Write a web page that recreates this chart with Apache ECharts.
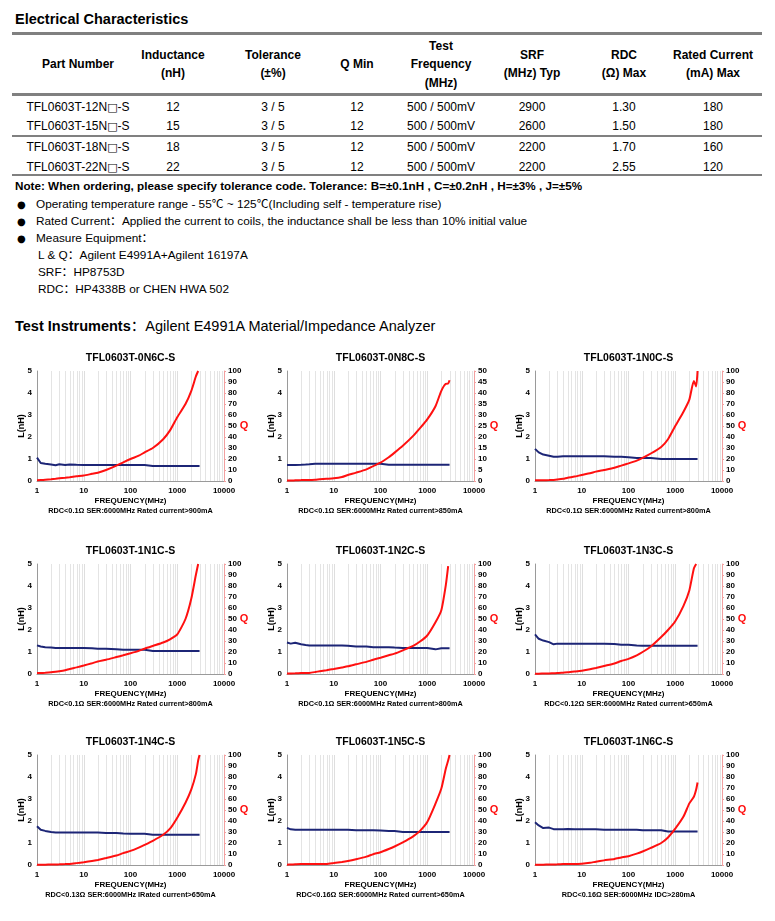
<!DOCTYPE html>
<html>
<head>
<meta charset="utf-8">
<script src="https://cdn.jsdelivr.net/npm/echarts@6/dist/echarts.min.js"></script>
<style>
  html,body{margin:0;padding:0;background:#fff;}
  body{width:775px;height:921px;position:relative;overflow:hidden;font-family:"Liberation Sans",Arial,"Noto Sans CJK SC",sans-serif;color:#000;}
  .t{position:absolute;white-space:nowrap;line-height:1;}
  .hl{position:absolute;left:12px;width:750px;background:#808080;}
  .ch{position:absolute;width:265px;height:195px;}
  .bx{font-family:"DejaVu Sans";font-size:11px;}
</style>
</head>
<body>
<div id="page"></div>
<script>
// ---------------- Table data ----------------
const tableHeaders = [["Part Number"],["Inductance","(nH)"],["Tolerance","(±%)"],["Q Min"],["Test","Frequency","(MHz)"],["SRF","(MHz) Typ"],["RDC","(Ω) Max"],["Rated Current","(mA) Max"]];
const partNumbers = ["TFL0603T-12N□-S","TFL0603T-15N□-S","TFL0603T-18N□-S","TFL0603T-22N□-S"];
const inductance = ["12","15","18","22"];
const tolerance = ["3 / 5","3 / 5","3 / 5","3 / 5"];
const qMin = ["12","12","12","12"];
const testFreq = ["500 / 500mV","500 / 500mV","500 / 500mV","500 / 500mV"];
const srf = ["2900","2600","2200","2200"];
const rdc = ["1.30","1.50","1.70","2.55"];
const ratedCurrent = ["180","180","160","120"];

// ---------------- Chart data ----------------
const CHART_TITLES = ["TFL0603T-0N6C-S","TFL0603T-0N8C-S","TFL0603T-1N0C-S","TFL0603T-1N1C-S","TFL0603T-1N2C-S","TFL0603T-1N3C-S","TFL0603T-1N4C-S","TFL0603T-1N5C-S","TFL0603T-1N6C-S"];
const CHART_NOTES = [
  "RDC<0.1Ω SER:6000MHz Rated current>900mA",
  "RDC<0.1Ω SER:6000MHz Rated current>850mA",
  "RDC<0.1Ω SER:6000MHz Rated current>800mA",
  "RDC<0.1Ω SER:6000MHz Rated current>800mA",
  "RDC<0.1Ω SER:6000MHz Rated current>800mA",
  "RDC<0.12Ω SER:6000MHz Rated current>650mA",
  "RDC<0.13Ω SER:6000MHz IRated current>650mA",
  "RDC<0.16Ω SER:6000MHz Rated current>650mA",
  "RDC<0.16Ω SER:6000MHz IDC>280mA"
];
const X_AXIS_NAME = "FREQUENCY(MHz)";
const L_AXIS_NAME = "L(nH)";
const Q_AXIS_NAME = "Q";
const Q_AXIS_MAX = [100,50,100,100,100,100,100,100,100];
const Q_AXIS_STEP = [10,5,10,10,10,10,10,10,10];
const L_AXIS_TICKS = [0,1,2,3,4,5];
const FREQ_TICKS = [1,10,100,1000,10000];
const MINOR_GRID = [2,3,4,5,6,7,8,9,20,30,40,50,60,70,80,90,200,300,400,500,600,700,800,900,2000,3000,4000,5000,6000,7000,8000,9000];

const FREQ = [1,1.2,1.5,2,2.5,3,4,5,7,10,15,20,30,50,70,100,150,200,300,500,700,1000,1500,2000,2500,2800,3000];

const L_0N6C = [1.06,0.82,0.78,0.75,0.72,0.76,0.73,0.75,0.74,0.73,0.73,0.73,0.73,0.73,0.73,0.73,0.73,0.73,0.68,0.68,0.68,0.68,0.68,0.68,0.68,0.68,0.68];
const Q_0N6C = [0.6,0.8,1.2,1.6,2,2.4,3,3.5,4.3,5,6.5,7.5,10,14,17,20,23,26,30,38,46,58,70,82,95,100,null];

const L_0N8C = [0.73,0.73,0.73,0.74,0.75,0.76,0.78,0.78,0.78,0.78,0.78,0.78,0.78,0.78,0.78,0.78,0.74,0.74,0.74,0.74,0.74,0.74,0.74,0.74,0.74,0.74,0.74];
const Q_0N8C = [0.2,0.2,0.3,0.4,0.5,0.5,0.6,0.8,1,1.2,1.8,2.7,3.8,5.3,6.8,8.3,10.8,12.9,16,20.5,24,28,34,41,44.2,44.3,45.8];

const L_1N0C = [1.46,1.3,1.2,1.15,1.1,1.1,1.12,1.13,1.12,1.12,1.12,1.12,1.12,1.1,1.1,1.08,1.05,1.05,1.05,1.0,1.0,1.0,1.0,1.0,1.0,1.0,1.0];
const Q_1N0C = [0.6,0.6,0.7,0.8,1,1.3,2,3,4,5.5,7,8.5,10,12,14,16,18.5,21,25,31,38,50,63,74,91,86,100];

const L_1N1C = [1.3,1.25,1.22,1.2,1.18,1.18,1.18,1.18,1.18,1.18,1.17,1.15,1.15,1.12,1.1,1.1,1.1,1.1,1.05,1.05,1.05,1.05,1.05,1.05,1.05,1.05,1.05];
const Q_1N1C = [0.8,0.9,1.1,1.5,2,2.5,3.5,4.6,6,7.7,9.8,11.4,13,15.4,17,18.8,21,23,25.5,28.6,31.5,36,50,68.6,90,100,null];

const L_1N2C = [1.43,1.38,1.42,1.35,1.32,1.3,1.3,1.3,1.3,1.3,1.3,1.28,1.25,1.25,1.22,1.22,1.22,1.2,1.18,1.18,1.18,1.18,1.12,1.17,1.17,1.17,1.17];
const Q_1N2C = [0.5,0.5,0.6,0.8,0.9,1,1.8,2.5,3.5,4.6,6,7,8.8,11,13,14.8,17,18.5,21.5,25.5,29.5,35,47,58,81,98,null];

const L_1N3C = [1.8,1.6,1.52,1.45,1.35,1.38,1.38,1.38,1.38,1.38,1.38,1.38,1.38,1.36,1.33,1.33,1.3,1.28,1.28,1.28,1.28,1.28,1.28,1.28,1.28,1.28,1.28];
const Q_1N3C = [0.3,0.3,0.4,0.5,0.7,0.8,1.2,1.5,2.2,3,4.3,5.5,7.3,9.5,11.8,13.8,17,20,25,33.6,40,48,62,76,96,100,null];

const L_1N4C = [1.76,1.6,1.55,1.5,1.48,1.48,1.48,1.48,1.48,1.48,1.48,1.48,1.46,1.45,1.43,1.42,1.42,1.42,1.38,1.38,1.38,1.38,1.38,1.38,1.38,1.38,1.38];
const Q_1N4C = [0.2,0.2,0.3,0.4,0.5,0.6,0.8,1,1.7,2.5,3.6,4.6,6.3,8.6,10.8,12.8,15.8,18.3,22,27.5,33,43,56.6,68.8,82.6,95,100];

const L_1N5C = [1.69,1.62,1.6,1.6,1.6,1.6,1.6,1.6,1.6,1.6,1.6,1.6,1.58,1.58,1.58,1.57,1.55,1.55,1.5,1.5,1.5,1.5,1.5,1.5,1.5,1.5,1.5];
const Q_1N5C = [0.3,0.4,0.6,0.8,0.8,0.8,0.9,1,1,1.8,2.8,3.7,5.3,7.6,9.8,11.6,14.5,16.8,20.5,26,31,39,55.8,69.5,87.8,95,100];

const L_1N6C = [1.94,1.8,1.68,1.7,1.63,1.62,1.62,1.64,1.62,1.62,1.62,1.62,1.6,1.6,1.6,1.6,1.6,1.58,1.58,1.58,1.52,1.52,1.52,1.52,1.52,1.52,1.52];
const Q_1N6C = [0.2,0.2,0.3,0.4,0.5,0.6,0.8,0.9,1,1.2,2,3,4.2,5.5,6.8,8,10.3,12.3,15.5,20,25,33,44,56,62,68.6,75];

const L_SERIES = [L_0N6C,L_0N8C,L_1N0C,L_1N1C,L_1N2C,L_1N3C,L_1N4C,L_1N5C,L_1N6C];
const Q_SERIES = [Q_0N6C,Q_0N8C,Q_1N0C,Q_1N1C,Q_1N2C,Q_1N3C,Q_1N4C,Q_1N5C,Q_1N6C];

// ---------------- Page text ----------------
const FONT = '"Liberation Sans", Arial, "Noto Sans CJK SC", sans-serif';
const page = document.getElementById('page');
function put(html, x, y, css, align){
  const d = document.createElement('div');
  d.className = 't';
  d.innerHTML = html;
  d.style.left = x + 'px';
  d.style.top = y + 'px';
  d.style.transform = align === 'c' ? 'translate(-50%,-50%)' : 'translate(0,-50%)';
  if (css) d.style.cssText += css;
  page.appendChild(d);
  return d;
}
function hline(y, h){
  const d = document.createElement('div');
  d.className = 'hl';
  d.style.top = y + 'px';
  d.style.height = h + 'px';
  page.appendChild(d);
}
function esc(s){ return s.replace(/&/g,'&amp;').replace(/</g,'&lt;').replace(/□/g,'<span class="bx">□</span>'); }

put('Electrical Characteristics', 15, 19, 'font-size:14.5px;font-weight:bold;');
hline(32, 3); hline(93, 3); hline(135, 2); hline(174, 2);

const colX = [78,173,273,357,441,532,624,713];
tableHeaders.forEach((lines, i) => {
  const n = lines.length;
  const lh = 18.5;
  const y0 = 64 - (n - 1) * lh / 2;
  lines.forEach((s, k) => put(esc(s), colX[i], y0 + k * lh, 'font-size:12px;font-weight:bold;', 'c'));
});
const rowY = [107,126,147,167];
const cols = [partNumbers, inductance, tolerance, qMin, testFreq, srf, rdc, ratedCurrent];
cols.forEach((arr, i) => arr.forEach((s, r) => put(esc(s), colX[i], rowY[r], 'font-size:12px;', 'c')));

put('Note: When ordering, please specify tolerance code. Tolerance: B=±0.1nH , C=±0.2nH , H=±3% , J=±5%', 15, 186, 'font-size:11.7px;font-weight:bold;');
const bullets = ['Operating temperature range - 55℃ ~ 125℃(Including self - temperature rise)',
  'Rated Current：Applied the current to coils, the inductance shall be less than 10% initial value',
  'Measure Equipment：'];
bullets.forEach((s, i) => {
  put('●', 17, 205 + i * 17, 'font-size:10px;font-family:"DejaVu Sans";');
  put(esc(s), 36, 205 + i * 17, 'font-size:11.8px;');
});
['L & Q：Agilent E4991A+Agilent 16197A','SRF：HP8753D','RDC：HP4338B or CHEN HWA 502'].forEach((s, i) => {
  put(esc(s), 38, 256 + i * 17, 'font-size:11.8px;');
});
put('<b>Test Instruments</b>：Agilent E4991A Material/Impedance Analyzer', 15, 326, 'font-size:14.5px;');

// ---------------- Charts ----------------
const DIV_X = [0, 250, 498];
const DIV_Y = [345, 538, 729];
const GX = 37, GY = 26, GW = 187, GH = 110;
const NAVY = '#1c2576', RED = '#ff1010';

function makeChart(idx){
  const d = document.createElement('div');
  d.className = 'ch';
  d.style.left = DIV_X[idx % 3] + 'px';
  d.style.top = DIV_Y[Math.floor(idx / 3)] + 'px';
  page.appendChild(d);
  const chart = echarts.init(d, null, {renderer: 'canvas'});
  const L = L_SERIES[idx], Q = Q_SERIES[idx];
  const lab = {fontSize: 8, fontWeight: 'bold', color: '#000', fontFamily: FONT};
  const txt = (text, x, y, font, fill, rot) => ({type: 'text', x: x, y: y, rotation: rot || 0,
    style: {text: text, align: 'center', verticalAlign: 'middle', font: font, fill: fill || '#000'}});
  chart.setOption({
    animation: false,
    textStyle: {fontFamily: FONT},
    grid: {left: GX, top: GY, width: GW, height: GH, containLabel: false},
    xAxis: {type: 'log', logBase: 10, min: FREQ_TICKS[0], max: FREQ_TICKS[FREQ_TICKS.length - 1],
      axisLine: {show: true, lineStyle: {color: '#9a9a9a', width: 1}},
      axisTick: {show: false},
      axisLabel: Object.assign({margin: 6, formatter: v => String(Math.round(v))}, lab),
      splitLine: {show: true, lineStyle: {color: '#dedede', width: 1}}},
    yAxis: [
      {type: 'value', min: L_AXIS_TICKS[0], max: L_AXIS_TICKS[L_AXIS_TICKS.length - 1], interval: 1,
        axisLine: {show: true, lineStyle: {color: '#9a9a9a', width: 1}},
        axisTick: {show: false},
        axisLabel: Object.assign({margin: 5}, lab),
        splitLine: {show: false}},
      {type: 'value', position: 'right', min: 0, max: Q_AXIS_MAX[idx], interval: Q_AXIS_STEP[idx],
        axisLine: {show: true, lineStyle: {color: '#f2a0a0', width: 1}},
        axisTick: {show: true, length: 2, lineStyle: {color: '#f2a0a0'}},
        axisLabel: Object.assign({margin: 4}, lab),
        splitLine: {show: false}}
    ],
    graphic: [
      txt(CHART_TITLES[idx], GX + GW / 2, 13, 'bold 10.5px ' + FONT),
      txt(X_AXIS_NAME, GX + GW / 2, GY + GH + 20, 'bold 8px ' + FONT),
      txt(CHART_NOTES[idx], GX + GW / 2, GY + GH + 29.5, 'bold 7.3px ' + FONT),
      txt(L_AXIS_NAME, 22, GY + GH / 2, 'bold 9px ' + FONT, '#000', Math.PI / 2),
      txt(Q_AXIS_NAME, GX + GW + 20, GY + GH / 2, 'bold 11px ' + FONT, RED)
    ],
    series: [
      {type: 'custom', silent: true, z: 1, xAxisIndex: 0, yAxisIndex: 0,
        data: MINOR_GRID.map(v => [v, 0]),
        encode: {x: 0, y: 1},
        renderItem: (params, api) => {
          const v = api.value(0);
          const p0 = api.coord([v, L_AXIS_TICKS[0]]);
          const p1 = api.coord([v, L_AXIS_TICKS[L_AXIS_TICKS.length - 1]]);
          const x = Math.round(p0[0]) + 0.5;
          return {type: 'line', shape: {x1: x, y1: p0[1], x2: x, y2: p1[1]},
            style: {stroke: '#e4e4e4', lineWidth: 1}};
        }},
      {type: 'line', name: 'L', yAxisIndex: 0, z: 3, symbol: 'none', smooth: false,
        lineStyle: {color: NAVY, width: 2}, itemStyle: {color: NAVY},
        data: FREQ.map((f, i) => [f, L[i]])},
      {type: 'line', name: 'Q', yAxisIndex: 1, z: 4, symbol: 'none', smooth: 0.2, connectNulls: false,
        lineStyle: {color: RED, width: 2}, itemStyle: {color: RED},
        data: FREQ.map((f, i) => [f, Q[i]])}
    ]
  });
}
for (let i = 0; i < 9; i++) makeChart(i);
</script>
</body>
</html>
